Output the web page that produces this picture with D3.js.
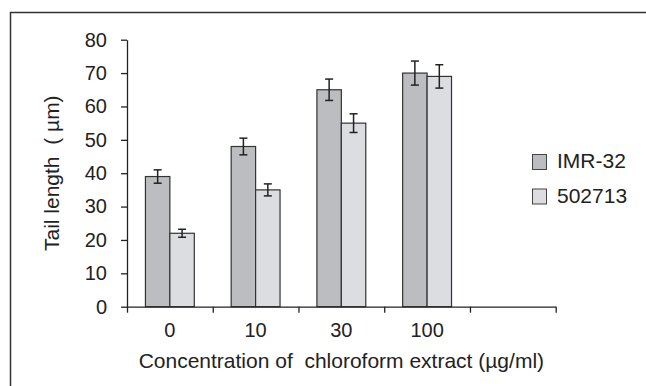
<!DOCTYPE html>
<html>
<head>
<meta charset="utf-8">
<script src="https://cdn.jsdelivr.net/npm/d3@7"></script>
<style>
  html, body { margin: 0; padding: 0; background: #fff; }
  svg { display: block; font-family: "Liberation Sans", Arial, sans-serif; }
  text { white-space: pre; }
</style>
</head>
<body>
<div id="chart"></div>
<script>
// Data
const categories = ['0', '10', '30', '100'];
const slots = ['0', '10', '30', '100', ''];   // last band is empty on the axis
const seriesNames = ['IMR-32', '502713'];
const imrValues = [39, 48, 65, 70];
const imrErrors = [2, 2.5, 3.2, 3.6];
const cellValues = [22, 35, 55, 69];
const cellErrors = [1.2, 1.8, 2.8, 3.5];
const yTicks = [0, 10, 20, 30, 40, 50, 60, 70, 80];

const width = 646, height = 386;
const colors = ['#bcbdc1', '#dcdde0'];
const margin = { left: 127, right: 90.3, top: 39.7, bottom: 79.3 };
const tickFont = '20px';
const labelFont = '21px';

const svg = d3.select('#chart').append('svg')
  .attr('width', width)
  .attr('height', height);

// Outer frame (right and bottom run off the picture)
svg.append('rect')
  .attr('x', 10.5).attr('y', 12.5)
  .attr('width', width + 20).attr('height', height + 20)
  .attr('fill', 'none')
  .attr('stroke', '#333')
  .attr('stroke-width', 1.5);

const x0 = margin.left, x1 = width - margin.right;
const y0 = height - margin.bottom, y1 = margin.top;

const y = d3.scaleLinear().domain([0, 80]).range([y0, y1]);
const xBand = d3.scaleBand().domain(slots).range([x0, x1]);
const xEdge = d3.scaleLinear().domain([0, slots.length]).range([x0, x1]);

const series = [
  { name: seriesNames[0], values: imrValues, errors: imrErrors, color: colors[0] },
  { name: seriesNames[1], values: cellValues, errors: cellErrors, color: colors[1] }
];

const groupWidth = xBand.bandwidth() * 0.57;
const xSub = d3.scaleBand().domain(seriesNames)
  .range([-groupWidth / 2, groupWidth / 2]);

// Bars
const g = svg.append('g');
series.forEach(s => {
  g.selectAll('rect.bar-' + s.name)
    .data(categories)
    .enter().append('rect')
    .attr('x', (c) => xBand(c) + xBand.bandwidth() / 2 + xSub(s.name))
    .attr('y', (c, i) => y(s.values[i]))
    .attr('width', xSub.bandwidth())
    .attr('height', (c, i) => y0 - y(s.values[i]))
    .attr('fill', s.color)
    .attr('stroke', '#333')
    .attr('stroke-width', 1.2);
});

// Error bars
series.forEach(s => {
  categories.forEach((c, i) => {
    const cx = xBand(c) + xBand.bandwidth() / 2 + xSub(s.name) + xSub.bandwidth() / 2;
    const top = y(s.values[i] + s.errors[i]);
    const bot = y(s.values[i] - s.errors[i]);
    const eb = g.append('g').attr('stroke', '#222').attr('stroke-width', 1.5);
    eb.append('line').attr('x1', cx).attr('x2', cx).attr('y1', top).attr('y2', bot);
    eb.append('line').attr('x1', cx - 4).attr('x2', cx + 4).attr('y1', top).attr('y2', top);
    eb.append('line').attr('x1', cx - 4).attr('x2', cx + 4).attr('y1', bot).attr('y2', bot);
  });
});

// Y axis
const yAxis = svg.append('g')
  .attr('transform', `translate(${x0},0)`)
  .call(d3.axisLeft(y).tickValues(yTicks).tickSize(6).tickSizeOuter(0).tickPadding(14));
yAxis.selectAll('text').style('font-size', tickFont).attr('fill', '#222');

// X axis: ticks at band edges, labels centred in bands
svg.append('g')
  .attr('transform', `translate(0,${y0})`)
  .call(d3.axisBottom(xEdge).tickValues(d3.range(slots.length + 1))
    .tickSize(6).tickSizeOuter(0).tickFormat(''));

svg.selectAll('.domain, .tick line').attr('stroke', '#222').attr('stroke-width', 1.3);

svg.append('g').selectAll('text')
  .data(categories)
  .enter().append('text')
  .attr('x', c => xBand(c) + xBand.bandwidth() / 2)
  .attr('y', y0 + 30)
  .attr('text-anchor', 'middle')
  .style('font-size', tickFont)
  .attr('fill', '#222')
  .text(c => c);

// Axis titles
svg.append('text')
  .attr('x', (x0 + x1) / 2)
  .attr('y', 368)
  .attr('text-anchor', 'middle')
  .style('font-size', labelFont)
  .attr('fill', '#222')
  .text('Concentration of  chloroform extract (µg/ml)');

svg.append('text')
  .attr('transform', `translate(59,${(y0 + y1) / 2}) rotate(-90)`)
  .attr('text-anchor', 'middle')
  .style('font-size', labelFont)
  .attr('fill', '#222')
  .text('Tail length  ( µm)');

// Legend
const legend = svg.append('g').attr('transform', 'translate(532,154)');
series.forEach((s, i) => {
  const row = legend.append('g').attr('transform', `translate(0,${i * 34.5})`);
  row.append('rect')
    .attr('x', 0.5).attr('y', 0.5)
    .attr('width', 14).attr('height', 15)
    .attr('fill', s.color)
    .attr('stroke', '#444')
    .attr('stroke-width', 1);
  row.append('text')
    .attr('x', 25).attr('y', 14)
    .style('font-size', labelFont)
    .attr('fill', '#222')
    .text(s.name);
});
</script>
</body>
</html>
